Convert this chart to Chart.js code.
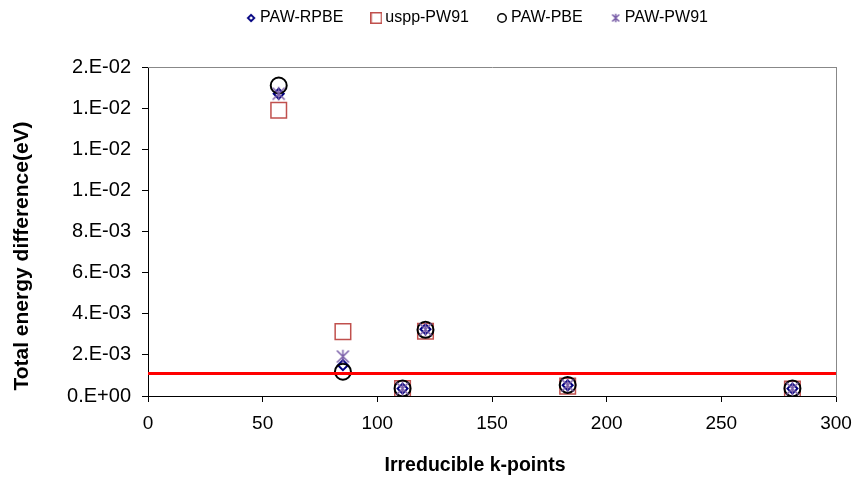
<!DOCTYPE html>
<html>
<head>
<meta charset="utf-8">
<script src="https://cdn.jsdelivr.net/npm/chart.js@4.4.0/dist/chart.umd.min.js"></script>
<style>
    html, body { margin: 0; padding: 0; background: #fff; }
    #wrap { width: 854px; height: 477px; }
</style>
</head>
<body>
<div id="wrap"><canvas id="chart" width="854" height="477"></canvas></div>
<script>
// Data
const kPoints = [57, 85, 111, 121, 183, 281];
const pawRpbe = [0.0147, 0.00150, 0.00036, 0.00325, 0.00052, 0.00036];
const usppPw91 = [0.0139, 0.00313, 0.00036, 0.00315, 0.00048, 0.00034];
const pawPbe = [0.0151, 0.00118, 0.00037, 0.00322, 0.00054, 0.00037];
const pawPw91 = [0.0147, 0.00192, 0.00036, 0.00324, 0.00052, 0.00036];
const seriesNames = ['PAW-RPBE', 'uspp-PW91', 'PAW-PBE', 'PAW-PW91'];
const threshold = 0.0011;
const xRange = [0, 300];
const xTicks = [0, 50, 100, 150, 200, 250, 300];
const yTicks = [0, 0.002, 0.004, 0.006, 0.008, 0.010, 0.012, 0.014, 0.016];
const yTickLabels = ['0.E+00', '2.E-03', '4.E-03', '6.E-03', '8.E-03', '1.E-02', '1.E-02', '1.E-02', '2.E-02'];

const FONT = "'Liberation Sans', Arial, sans-serif";
const colors = ['#000080', '#C0504D', '#000000', '#7A5FA8'];

// small canvas markers (Excel-like asterisk + legend symbols)
function makeMarker(kind, size, color, lw) {
    const c = document.createElement('canvas');
    c.width = size;
    c.height = size;
    const g = c.getContext('2d');
    const h = size / 2;
    g.strokeStyle = color;
    g.lineWidth = lw;
    g.beginPath();
    if (kind === 'diamond') {
        g.moveTo(h, lw); g.lineTo(size - lw, h); g.lineTo(h, size - lw); g.lineTo(lw, h); g.closePath();
    } else if (kind === 'square') {
        g.rect(lw / 2, lw / 2, size - lw, size - lw);
    } else if (kind === 'circle') {
        g.arc(h, h, h - lw / 2, 0, Math.PI * 2);
    } else {
        g.moveTo(h, lw / 2); g.lineTo(h, size - lw / 2);
        g.moveTo(lw, lw); g.lineTo(size - lw, size - lw);
        g.moveTo(size - lw, lw); g.lineTo(lw, size - lw);
    }
    g.stroke();
    return c;
}

const starPoint = makeMarker('star', 15, colors[3], 1.5);
const legendMarkers = [
    makeMarker('diamond', 10, colors[0], 1.8),
    makeMarker('square', 12, colors[1], 1.5),
    makeMarker('circle', 10, colors[2], 1.5),
    makeMarker('star', 10, colors[3], 1.5)
];

const toPoints = ys => kPoints.map((k, i) => ({ x: k, y: ys[i] }));

// axis titles placed like the original (not centred on the plot)
const axisTitles = {
    id: 'axisTitles',
    afterLayout(chart) {
        // legend sits a little left of the plot centre in the original
        chart.legend.left -= 13;
        chart.legend.right -= 13;
    },
    afterDraw(chart) {
        const ctx = chart.ctx;
        ctx.save();
        ctx.fillStyle = '#000';
        ctx.textAlign = 'center';
        ctx.textBaseline = 'middle';
        ctx.font = 'bold 19.5px ' + FONT;
        ctx.fillText('Irreducible k-points', 475, 466);
        ctx.translate(22, 256);
        ctx.rotate(-Math.PI / 2);
        ctx.font = 'bold 21px ' + FONT;
        ctx.fillText('Total energy difference(eV)', 0, 0);
        ctx.restore();
    }
};

new Chart(document.getElementById('chart'), {
    type: 'scatter',
    data: {
        datasets: [
            {
                label: seriesNames[0], data: toPoints(pawRpbe), order: 4,
                pointStyle: 'rectRot', pointRadius: 5, borderColor: colors[0], borderWidth: 2,
                backgroundColor: 'rgba(0,0,0,0)'
            },
            {
                label: seriesNames[1], data: toPoints(usppPw91), order: 3,
                pointStyle: 'rect', pointRadius: 11, borderColor: colors[1], borderWidth: 1.5,
                backgroundColor: 'rgba(0,0,0,0)'
            },
            {
                label: seriesNames[2], data: toPoints(pawPbe), order: 2,
                pointStyle: 'circle', pointRadius: 8, borderColor: colors[2], borderWidth: 2,
                backgroundColor: 'rgba(0,0,0,0)'
            },
            {
                label: seriesNames[3], data: toPoints(pawPw91), order: 1,
                pointStyle: starPoint, pointRadius: 8, borderColor: colors[3],
                backgroundColor: 'rgba(0,0,0,0)'
            },
            {
                label: 'threshold', order: 0,
                data: [{ x: xRange[0], y: threshold }, { x: xRange[1], y: threshold }],
                showLine: true, pointRadius: 0, borderColor: '#FF0000', borderWidth: 3
            }
        ]
    },
    options: {
        responsive: false,
        animation: false,
        devicePixelRatio: 1,
        layout: { padding: { top: -22, right: 18, bottom: 0, left: 0 } },
        plugins: {
            tooltip: { enabled: false },
            legend: {
                position: 'top',
                fullSize: false,
                labels: {
                    usePointStyle: true,
                    boxWidth: 2,
                    padding: 32,
                    color: '#000',
                    font: { size: 16, family: FONT },
                    filter: item => item.datasetIndex < 4,
                    sort: (a, b) => a.datasetIndex - b.datasetIndex,
                    generateLabels(chart) {
                        const items = Chart.defaults.plugins.legend.labels.generateLabels(chart);
                        items.forEach(it => {
                            if (legendMarkers[it.datasetIndex]) it.pointStyle = legendMarkers[it.datasetIndex];
                        });
                        return items;
                    }
                }
            }
        },
        scales: {
            x: {
                type: 'linear', position: 'bottom', min: xRange[0], max: xRange[1],
                afterBuildTicks: s => { s.ticks = xTicks.map(v => ({ value: v })); },
                afterFit: s => { s.height = 81; s.paddingRight = 0; },
                grid: { display: true, drawOnChartArea: false, drawTicks: true, tickLength: 6, color: '#000' },
                border: { display: true, color: '#000', width: 1 },
                ticks: { color: '#000', font: { size: 19, family: FONT }, padding: 10, maxRotation: 0, autoSkip: false }
            },
            y: {
                type: 'linear', position: 'left', min: yTicks[0], max: yTicks[yTicks.length - 1],
                afterBuildTicks: s => { s.ticks = yTicks.map(v => ({ value: v })); },
                afterFit: s => { s.width = 148; },
                grid: { display: true, drawOnChartArea: false, drawTicks: true, tickLength: 6, color: '#000' },
                border: { display: true, color: '#000', width: 1 },
                ticks: {
                    color: '#000', font: { size: 20, family: FONT }, padding: 11, autoSkip: false,
                    callback: (v, i) => yTickLabels[i]
                }
            },
            x2: {
                type: 'linear', position: 'top', min: xRange[0], max: xRange[1],
                afterFit: s => { s.height = 31; },
                grid: { display: true, drawOnChartArea: false, drawTicks: false },
                border: { display: true, color: '#888', width: 1 },
                ticks: { display: false }
            },
            y2: {
                type: 'linear', position: 'right', min: yTicks[0], max: yTicks[yTicks.length - 1],
                afterFit: s => { s.width = 0; },
                grid: { display: true, drawOnChartArea: false, drawTicks: false },
                border: { display: true, color: '#888', width: 1 },
                ticks: { display: false }
            }
        }
    },
    plugins: [axisTitles]
});
</script>
</body>
</html>
